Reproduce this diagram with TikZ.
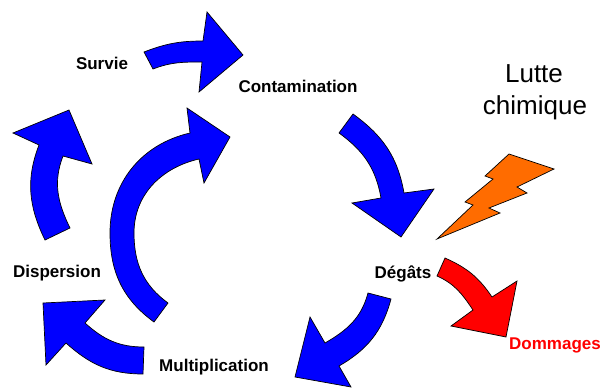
\documentclass[tikz,border=0pt]{standalone}
\usepackage{fontspec}
\setmainfont{Liberation Sans}
\definecolor{arrblue}{RGB}{0,0,255}
\definecolor{arrred}{RGB}{255,0,0}
\definecolor{boltorange}{RGB}{255,108,0}
\tikzset{
  blockarrow/.style={draw=black, line width=0.7pt, line join=miter},
  lbl/.style={font=\bfseries\fontsize{17}{20}\selectfont, anchor=base, inner sep=0pt},
  bigtext/.style={font=\fontsize{26}{32}\selectfont, anchor=base, inner sep=0pt}
}
\begin{document}
\begin{tikzpicture}[x=1pt,y=1pt]
\useasboundingbox (0,0) rectangle (605,389);
% Survie -> Contamination
\filldraw[blockarrow, fill=arrblue] (144,337) to[out=21,in=180] (203,348) -- (207,377) -- (243,334) -- (199,297) -- (202,327) to[out=180,in=21] (153,320) -- cycle;
% Contamination -> Degats
\filldraw[blockarrow, fill=arrblue] (353,275) to[out=-36,in=100] (404,196) -- (434,200) -- (401,152) -- (352,186) -- (381,191) to[out=100,in=-36] (339,256) -- cycle;
% Degats -> Multiplication
\filldraw[blockarrow, fill=arrblue] (368,96) to[out=255,in=30] (325,46) -- (310,72) -- (295,12) -- (351,2) -- (339,23) to[out=30,in=255] (391,90) -- cycle;
% Multiplication -> Dispersion
\filldraw[blockarrow, fill=arrblue] (144,42) to[out=180,in=-42] (85,66) -- (105,89) -- (43,86) -- (46,24) -- (66,46) to[out=-42,in=180] (143,15) -- cycle;
% Dispersion -> Survie
\filldraw[blockarrow, fill=arrblue] (45,149) to[out=116,in=249] (39,244) -- (13,256) -- (69,279) -- (92,225) -- (63,233) to[out=249,in=116] (70,161) -- cycle;
% inner big arc
\filldraw[blockarrow, fill=arrblue] (154,67) to[out=144,in=270] (110,156) to[out=90,in=193] (190,256) -- (187,281) -- (230,252) -- (204,206) -- (199,230) to[out=193,in=90] (134,156) to[out=270,in=144] (168,86) -- cycle;
% Degats -> Dommages (red)
\filldraw[blockarrow, fill=arrred] (445,131) to[out=-24,in=124] (492,92) -- (517,108) -- (506,52) -- (451,63) -- (473,79) to[out=124,in=-24] (437,113) -- cycle;
% lightning bolt
\filldraw[blockarrow, fill=boltorange] (437,150) -- (473,184) -- (465,187) -- (493,210) -- (485,213) -- (509,235) -- (554,220) -- (517,202) -- (527,196) -- (489,181) -- (500,176) -- cycle;
% labels
\node[lbl] (survie) at (102,319) {Survie};
\node[lbl] (contamination) at (298,296) {Contamination};
\node[lbl] (degats) at (403,111) {Dégâts};
\node[lbl] (multiplication) at (214,18) {Multiplication};
\node[lbl] (dispersion) at (57,112) {Dispersion};
\node[lbl, text=arrred] (dommages) at (555,40) {Dommages};
\node[bigtext] (lutte) at (534,306) {Lutte};
\node[bigtext] (chimique) at (535,274) {chimique};
\end{tikzpicture}
\end{document}
